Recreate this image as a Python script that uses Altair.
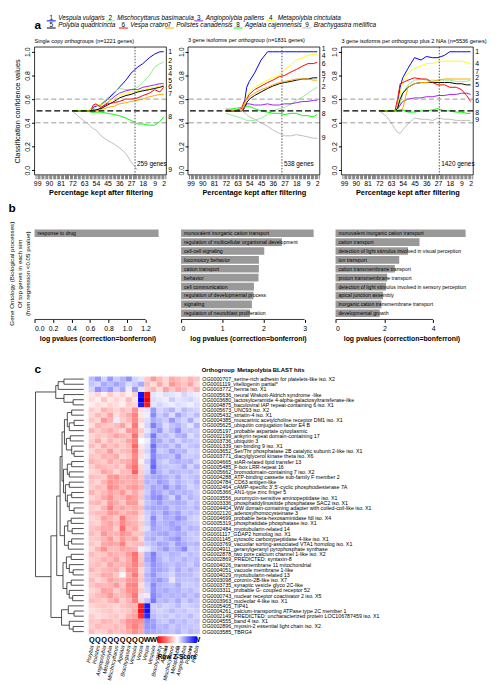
import altair as alt
import pandas as pd

FONT = "Liberation Sans"

# ---------------- legend / species ----------------
SPECIES = ["Vespula vulgaris", "Mischocyttarus basimacula", "Angiopolybia pallens",
           "Metapolybia cinctulata", "Polybia quadricincta", "Vespa crabro",
           "Polistes canadensis", "Agelaia cajennensis", "Brachygastra mellifica"]
SERIES_COLORS = ["#0000FF", "#90EE90", "#A020F0", "#FFFF00", "#000000",
                 "#FF0000", "#FFA500", "#00FF00", "#BEBEBE"]

# ---------------- panel a data ----------------
PCT = [72, 66, 60, 58, 56, 54, 50, 45, 40, 36, 31, 27, 22, 18, 13, 9, 5, 2]
N = None
P1 = [
    [0.5, 0.5, 0.5, 0.5, 0.53, 0.54, 0.55, 0.6, 0.65, 0.7, 0.76, 0.82, 0.87, 0.9, 0.95, 0.98, 1.0, 1.0],
    [0.5, 0.5, 0.5, 0.5, 0.52, 0.53, 0.56, 0.61, 0.66, 0.69, 0.68, 0.68, 0.7, 0.74, 0.8, 0.87, 0.9, 0.91],
    [0.5, 0.5, 0.5, 0.5, 0.49, 0.5, 0.53, 0.57, 0.62, 0.65, 0.67, 0.68, 0.68, 0.7, 0.71, 0.72, 0.73, 0.73],
    [0.5, 0.5, 0.5, 0.52, 0.55, 0.55, 0.55, 0.58, 0.6, 0.63, 0.65, 0.66, 0.67, 0.68, 0.69, 0.7, 0.71, 0.72],
    [0.5, 0.5, 0.5, 0.5, 0.51, 0.51, 0.52, 0.55, 0.58, 0.61, 0.63, 0.64, 0.66, 0.67, 0.68, 0.69, 0.7, 0.71],
    [0.5, 0.5, 0.5, 0.5, 0.55, 0.56, 0.53, 0.56, 0.57, 0.58, 0.6, 0.6, 0.61, 0.63, 0.65, 0.68, 0.66, 0.7],
    [0.5, 0.5, 0.5, 0.5, 0.52, 0.5, 0.51, 0.53, 0.54, 0.56, 0.57, 0.58, 0.59, 0.6, 0.62, 0.63, 0.64, 0.64],
    [0.5, 0.5, 0.5, 0.49, 0.49, 0.49, 0.49, 0.48, 0.47, 0.46, 0.44, 0.42, 0.39, 0.39, 0.38, 0.38, 0.41, 0.45],
    [0.5, 0.44, 0.39, 0.37, 0.35, 0.34, 0.29, 0.25, 0.22, 0.19, 0.14, 0.07, 0.0, N, N, N, N, N],
]
P2 = [
    [0.5, 0.5, 0.5, 0.55, 0.7, 0.75, 0.82, 0.93, 1.0, 1.0, 1.0, 1.0, 1.0, 1.0, 1.0, 1.0, 1.0, 1.0],
    [0.48, 0.46, 0.44, 0.43, 0.42, 0.42, 0.42, 0.44, 0.47, 0.5, 0.52, 0.53, 0.56, 0.59, 0.62, 0.65, 0.68, 0.7],
    [0.5, 0.5, 0.5, 0.52, 0.56, 0.56, 0.55, 0.55, 0.56, 0.55, 0.55, 0.56, 0.56, 0.57, 0.58, 0.58, 0.59, 0.59],
    [0.5, 0.5, 0.5, 0.55, 0.62, 0.66, 0.7, 0.73, 0.76, 0.78, 0.8, 0.85, 0.89, 0.93, 0.95, 0.97, 0.98, 0.98],
    [0.5, 0.5, 0.5, 0.52, 0.57, 0.6, 0.63, 0.66, 0.69, 0.71, 0.73, 0.74, 0.75, 0.76, 0.77, 0.77, 0.78, 0.78],
    [0.5, 0.5, 0.52, 0.58, 0.6, 0.64, 0.68, 0.71, 0.74, 0.76, 0.79, 0.8, 0.83, 0.85, 0.88, 0.9, 0.9, 0.91],
    [0.5, 0.5, 0.5, 0.55, 0.6, 0.62, 0.65, 0.68, 0.7, 0.72, 0.74, 0.75, 0.76, 0.77, 0.77, 0.77, 0.76, 0.76],
    [0.51, 0.52, 0.53, 0.53, 0.54, 0.54, 0.52, 0.5, 0.49, 0.48, 0.48, 0.47, 0.48, 0.48, 0.46, 0.46, 0.45, 0.47],
    [0.52, 0.51, 0.5, 0.49, 0.47, 0.45, 0.43, 0.4, 0.37, 0.34, 0.31, 0.29, 0.29, 0.3, 0.29, 0.28, 0.27, 0.27],
]
P3 = [
    [0.5, 0.5, 0.5, 0.55, 0.7, 0.78, 0.86, 0.95, 0.93, 0.96, 0.95, 0.95, 0.97, 1.0, 1.0, 1.0, 1.0, 1.0],
    [0.5, 0.5, 0.5, 0.5, 0.55, 0.65, 0.72, 0.76, 0.77, 0.76, 0.76, 0.76, 0.76, 0.76, 0.75, 0.75, 0.75, 0.76],
    [0.5, 0.5, 0.5, 0.52, 0.55, 0.58, 0.6, 0.61, 0.61, 0.62, 0.62, 0.63, 0.63, 0.64, 0.64, 0.65, 0.65, 0.64],
    [0.5, 0.5, 0.5, 0.55, 0.65, 0.75, 0.82, 0.86, 0.88, 0.9, 0.9, 0.92, 0.92, 0.92, 0.92, 0.92, 0.91, 0.9],
    [0.5, 0.5, 0.5, 0.52, 0.6, 0.65, 0.7, 0.73, 0.74, 0.74, 0.74, 0.74, 0.74, 0.74, 0.73, 0.73, 0.72, 0.72],
    [0.5, 0.5, 0.5, 0.6, 0.73, 0.74, 0.76, 0.78, 0.77, 0.77, 0.74, 0.72, 0.72, 0.7, 0.7, 0.68, 0.63, 0.58],
    [0.5, 0.5, 0.5, 0.5, 0.5, 0.52, 0.7, 0.73, 0.74, 0.74, 0.75, 0.76, 0.77, 0.77, 0.77, 0.77, 0.77, 0.77],
    [0.5, 0.5, 0.5, 0.5, 0.51, 0.51, 0.49, 0.49, 0.5, 0.5, 0.51, 0.52, 0.5, 0.5, 0.49, 0.49, 0.48, 0.48],
    [0.5, 0.45, 0.35, 0.32, 0.31, 0.34, 0.39, 0.44, 0.43, 0.43, 0.42, 0.44, 0.43, 0.43, 0.42, 0.42, 0.42, 0.42],
]
PANEL_TITLES = ["Single copy orthogroups (n=1221 genes)",
                "3 gene isoforms per orthogroup (n=1831 genes)",
                "3 gene isoforms per orthogroup plus 2 NAs (n=5536 genes)"]
CUT_PCT = [24, 29, 26]
CUT_GENES = ["259 genes", "538 genes", "1420 genes"]
THRESH_GRAY = [0.4, 0.6]
THRESH_BLACK = [0.5]
X_LABELS = [99, 90, 81, 72, 63, 54, 45, 36, 27, 18, 9, 2]

# ---------------- panel b data ----------------
B1_TERMS = ["response to drug"]
B1_VALS = [1.34]
B2_TERMS = ["monovalent inorganic cation transport",
            "regulation of multicellular organismal development",
            "cell-cell signaling", "locomotory behavior", "cation transport",
            "behavior", "cell communication", "regulation of developmental process",
            "signaling", "regulation of neuroblast proliferation"]
B2_VALS = [3.22, 2.45, 2.02, 1.89, 1.89, 1.88, 1.77, 1.76, 1.72, 1.67]
B3_TERMS = ["monovalent inorganic cation transport", "cation transport",
            "detection of light stimulus involved in visual perception",
            "ion transport", "cation transmembrane transport",
            "proton transmembrane transport",
            "detection of light stimulus involved in sensory perception",
            "apical junction assembly", "inorganic cation transmembrane transport",
            "developmental growth"]
B3_VALS = [5.33, 3.44, 2.97, 2.61, 2.43, 2.12, 2.07, 1.95, 1.88, 1.81]

# ---------------- panel c data ----------------
COL_CASTE = ["Q"] * 9 + ["W"] * 9
COL_SPECIES = ["Polybia", "Polistes", "Angiopolybia", "Metapolybia", "Mischocyttarus",
               "Agelaia", "Brachygastra", "Vespula", "Vespa",
               "Vespa", "Vespula", "Brachygastra", "Agelaia", "Mischocyttarus",
               "Metapolybia", "Angiopolybia", "Polistes", "Polybia"]
ROW_LABELS = [
    "OG0000707_serine-rich adhesin for platelets-like iso. X2",
    "OG0001119_vitellogenin partial*",
    "OG0003772_henna iso. X1",
    "OG0005636_neural Wiskott-Aldrich syndrome -like",
    "OG0003680_lactosylceramide 4-alpha-galactosyltransferase-like",
    "OG0004875_baculoviral IAP repeat-containing 6 iso. X1",
    "OG0005673_UNC93 iso. X2",
    "OG0005432_striatin-4 iso. X1",
    "OG0004385_muscarinic acetylcholine receptor DM1 iso. X1",
    "OG0005625_ubiquitin conjugation factor E4 B",
    "OG0005197_probable aspartate cytoplasmic",
    "OG0002199_ankyrin repeat domain-containing 17",
    "OG0003736_ubiquitin 3",
    "OG0001339_ran-binding 9 iso. X1",
    "OG0003652_Ser/Thr phosphatase 2B catalytic subunit 2-like iso. X1",
    "OG0003771_diacylglycerol kinase theta iso. X6",
    "OG0004665_stAR-related lipid transfer 13",
    "OG0005485_F-box LRR-repeat 16",
    "OG0005662_bromodomain-containing 7 iso. X2",
    "OG0004288_ATP-binding cassette sub-family F member 2",
    "OG0004784_CD63 antigen-like",
    "OG0002464_cAMP-specific 3',5'-cyclic phosphodiesterase 7A",
    "OG0005366_AN1-type zinc finger 5",
    "OG0003556_puromycin-sensitive aminopeptidase iso. X1",
    "OG0003336_phosphatidylinositide phosphatase SAC2 iso. X1",
    "OG0004404_WW domain-containing adapter with coiled-coil-like iso. X1",
    "OG0002120_adenosylhomocysteinase 3",
    "OG0004699_probable beta-hexosaminidase fdl iso. X4",
    "OG0005319_phosphatidate phosphatase iso. X1",
    "OG0002484_myotubularin-related 14",
    "OG0001117_GDAP2 homolog iso. X1",
    "OG0001145_cytosolic carboxypeptidase 4-like iso. X1",
    "OG0003769_vacuolar sorting-associated VTA1 homolog iso. X1",
    "OG0004911_geranylgeranyl pyrophosphate synthase",
    "OG0002878_two pore calcium channel 1-like iso. X2",
    "OG0002869_PREDICTED: syntaxin-8",
    "OG0004026_transmembrane 11 mitochondrial",
    "OG0004051_vacuole membrane 1-like",
    "OG0004029_myotubularin-related 13",
    "OG0003098_coronin-2B-like iso. X7",
    "OG0003735_synaptic vesicle glyco 2C-like",
    "OG0003311_probable G- coupled receptor 52",
    "OG0000743_nuclear receptor coactivator 2 iso. X5",
    "OG0003963_nucleolar 4-like iso. X1",
    "OG0005405_TIP41",
    "OG0004261_calcium-transporting ATPase type 2C member 1",
    "OG0002149_PREDICTED: uncharacterized protein LOC106787459 iso. X1",
    "OG0004555_band 4 iso. X1",
    "OG0002896_myosin-2 essential light chain iso. X2",
    "OG0003585_TBRG4",
]
Z = [
    [0.8, 1.2, 0.5, 1.2, 0.6, 0.9, 1.3, 0.5, 0.3, -0.6, -1.2, -0.8, -0.5, -1.0, -0.8, -0.6, -0.9, -0.7],
    [0.7, 0.5, 1.0, 0.8, 1.1, 0.9, 0.4, 0.6, 1.0, -0.8, -0.4, -1.0, -0.5, -1.2, -0.9, -0.7, -1.1, -0.5],
    [0.5, 1.3, 0.9, 1.2, 0.6, 1.0, 0.2, 1.2, 0.3, -0.6, -0.9, -0.4, -1.1, -0.6, -1.0, -0.8, -0.5, -0.9],
    [-0.3, -0.5, -0.2, -0.6, -0.3, -0.5, -0.2, -0.6, 2.8, -2.8, 0.3, 0.2, 0.4, 0.3, 0.2, 0.5, 0.3, 0.2],
    [-0.4, -0.2, -0.7, -0.3, -0.5, -0.3, -0.8, -0.3, 3.0, -3.0, 0.4, 0.3, 0.2, 0.6, 0.3, 0.4, 0.5, 0.3],
    [-0.2, -0.4, -0.3, -0.5, -0.4, -0.2, -0.6, -0.5, 2.7, -2.7, 0.3, 0.5, 0.3, 0.2, 0.4, 0.3, 0.2, 0.4],
    [-0.6, -0.4, -0.9, -0.7, -0.5, -0.8, -0.6, -1.3, -0.4, 0.3, 1.2, 0.5, 0.7, 0.9, 0.4, 0.8, 0.6, 0.5],
    [-0.5, -0.8, -0.6, -1.1, -0.4, -0.7, -1.0, -1.5, -0.3, 0.2, 1.4, 0.6, 0.9, 0.4, 1.1, 0.7, 0.5, 0.8],
    [-0.7, -0.5, -1.2, -0.9, 0.2, -0.6, -0.8, -1.4, -0.5, 0.4, 1.0, 0.8, 0.6, 1.2, 0.7, 0.5, 1.0, 0.4],
    [-0.4, -0.9, -0.7, -0.6, -0.8, -1.1, -0.5, -1.6, -0.2, 0.5, 1.5, 0.9, 0.4, 0.7, 0.9, 0.6, 0.3, 0.9],
    [-0.9, -0.6, -0.8, -1.0, -0.7, -0.5, -1.2, -1.3, -0.6, 0.3, 0.9, 1.2, 0.5, 0.8, 1.3, 0.6, 0.7, 0.6],
    [-0.5, -0.7, -0.6, -0.8, -1.1, -0.9, -0.7, -1.7, -0.4, 0.6, 1.6, 0.7, 0.8, 0.5, 0.9, 1.0, 0.4, 0.7],
    [-0.6, -1.0, -0.5, -0.9, -0.6, -0.7, -1.1, -1.5, 0.0, 0.2, 1.3, 1.0, 0.6, 0.9, 0.5, 0.8, 0.7, 0.6],
    [-0.8, -0.5, -1.0, -0.7, -0.9, -0.6, -0.8, -1.8, -0.3, 0.4, 1.7, 0.8, 0.9, 0.6, 1.0, 0.5, 0.7, 0.8],
    [-0.5, -0.8, -0.7, -1.2, -0.6, -0.8, -0.9, -1.6, -0.5, 0.5, 1.5, 0.6, 0.7, 1.1, 0.8, 0.9, 0.5, 0.6],
    [-0.7, -0.6, -0.9, -0.8, -1.0, -0.5, -0.7, -1.4, -0.4, 0.3, 1.4, 0.9, 0.8, 0.7, 1.2, 0.6, 0.6, 0.7],
    [-0.9, -0.7, -0.6, -1.0, -0.7, -0.9, -1.0, -1.5, -0.2, 0.6, 1.6, 0.7, 0.5, 0.8, 0.9, 0.8, 0.9, 0.5],
    [-0.6, -0.9, -0.8, -0.7, -0.8, -0.6, -1.2, -1.7, -0.5, 0.4, 1.8, 0.8, 0.7, 0.6, 0.7, 1.0, 0.5, 0.9],
    [-0.5, -0.6, -1.1, -0.9, -0.5, -0.8, -0.8, -1.9, -0.6, 0.5, 1.5, 0.9, 0.6, 0.9, 0.8, 0.7, 0.8, 0.6],
    [-0.8, -0.7, -0.6, -1.2, -1.3, -0.9, -1.0, -1.1, -0.7, 0.8, 1.0, 1.1, 0.9, 0.7, 1.0, 0.6, 0.7, 0.8],
    [-0.7, -0.5, -0.9, -1.3, -1.1, -1.0, -0.9, -1.0, -0.8, 0.9, 0.8, 1.2, 1.0, 0.6, 0.9, 0.7, 0.6, 0.9],
    [-0.6, -0.8, -0.7, -1.4, -1.2, -0.8, -1.1, -1.2, -0.9, 0.7, 1.1, 0.9, 1.3, 0.8, 1.1, 0.8, 0.5, 0.7],
    [-0.9, -0.6, -0.8, -1.1, -0.9, -1.2, -0.7, -1.0, -0.6, 0.6, 1.2, 1.0, 0.7, 1.0, 0.8, 0.9, 0.8, 0.6],
    [-0.5, -0.7, -1.0, -1.3, -0.8, -0.9, -1.3, -1.1, -0.7, 0.8, 1.3, 1.4, 0.9, 0.5, 1.2, 0.6, 0.9, 0.7],
    [-0.8, -0.9, -0.6, -1.2, -1.0, -0.7, -1.2, -1.2, -0.5, 0.7, 0.9, 1.2, 0.8, 0.9, 1.0, 0.9, 0.6, 0.8],
    [-0.6, -0.5, -0.9, -1.5, -0.9, -1.1, -0.8, -1.0, -0.8, 0.9, 1.1, 1.0, 1.1, 0.7, 0.9, 0.8, 0.7, 0.9],
    [-0.7, -0.8, -0.8, -1.2, -1.1, -0.8, -1.0, -1.1, -0.6, 0.6, 1.0, 0.8, 1.2, 0.9, 1.1, 0.7, 0.8, 0.7],
    [-0.5, -0.6, -1.1, -0.9, -0.7, -1.6, -0.9, -0.8, -0.4, 0.5, 1.4, 0.7, 1.0, 0.9, 1.3, 1.0, 0.6, 0.5],
    [-0.6, -0.5, -0.9, -1.1, -0.8, -1.4, -1.0, -0.9, -0.6, 0.6, 1.2, 0.8, 0.9, 1.1, 0.9, 0.8, 0.7, 0.6],
    [-0.7, -0.8, -1.0, -1.0, -0.6, -1.7, -0.8, -1.0, -0.5, 0.4, 1.1, 0.9, 0.8, 1.0, 1.2, 0.7, 0.9, 0.8],
    [-0.8, -0.6, -1.2, -0.9, -0.9, -1.3, -1.1, -0.7, -0.7, 0.7, 0.9, 1.0, 1.1, 0.8, 1.0, 0.9, 0.6, 0.7],
    [-0.6, -0.7, -0.9, -1.2, -0.7, -1.2, -0.9, -1.1, -0.5, 0.8, 1.0, 0.7, 0.9, 1.1, 1.3, 0.8, 0.7, 0.6],
    [-0.7, -0.5, -1.0, -1.1, -1.0, -1.5, -0.7, -0.8, -0.8, 0.6, 0.8, 1.1, 1.0, 0.7, 1.2, 1.0, 0.8, 0.9],
    [-0.5, -0.9, -1.3, -0.8, -0.8, -1.1, -1.0, -0.9, 0.2, 0.3, 0.7, 0.9, 1.2, 0.8, 1.0, 1.4, 0.6, 0.7],
    [-0.8, -0.6, -0.7, -1.0, -0.9, -0.8, -1.2, -1.7, -0.6, 0.9, 1.5, 0.8, 0.7, 0.9, 0.8, 0.6, 0.8, 0.7],
    [-0.6, -0.7, -0.9, -0.8, -1.1, -0.7, -1.0, -1.6, -0.7, 1.0, 1.4, 0.9, 0.6, 0.8, 0.7, 0.9, 0.7, 0.8],
    [-0.7, -0.8, -0.6, -1.1, -0.8, -0.9, -1.1, -1.5, -0.8, 0.8, 1.3, 1.0, 0.8, 0.7, 0.9, 0.8, 0.6, 0.9],
    [-0.9, -0.6, -0.8, -0.9, -1.0, -0.6, -1.3, -1.4, -0.5, 0.7, 1.2, 1.1, 0.9, 0.6, 1.0, 0.7, 0.9, 0.7],
    [-0.6, -0.7, -1.0, -1.0, -0.7, 0.1, -1.0, -1.6, -0.6, 0.9, 1.3, 0.8, 0.7, 0.5, 0.9, 0.8, 0.8, 0.6],
    [-0.8, -0.5, -0.7, -1.1, -0.9, -0.8, -1.2, -1.3, -0.7, 0.8, 1.1, 1.2, 0.9, 0.3, 0.8, 0.7, 0.7, 0.8],
    [-0.7, -0.9, -0.8, -0.9, -1.2, -0.7, -1.4, -1.5, -0.4, 0.6, 1.4, 0.9, 0.8, 0.7, 1.0, 0.6, 0.6, 0.7],
    [-0.5, -0.6, -1.1, -1.0, -0.6, -0.9, -1.3, -1.4, -0.6, 0.5, 1.3, 0.9, 1.0, 0.8, 0.9, 0.7, 0.8, 0.6],
    [-0.6, -0.8, -0.9, -1.2, -0.8, -0.8, -1.1, -1.6, 0.3, -0.3, 1.4, 1.0, 0.8, 0.9, 0.8, 0.9, 0.7, 0.9],
    [-0.8, -0.7, -0.6, -0.9, -1.1, -0.6, -0.9, -1.5, -0.5, 0.7, 1.6, 0.8, 0.9, 0.7, 1.0, 0.6, 0.9, 0.7],
    [-0.5, -0.6, -0.7, -0.6, -0.5, -0.7, -0.8, -0.9, -2.6, 2.7, 0.6, 0.7, 0.5, 0.6, 0.8, 0.5, 0.6, 0.7],
    [-0.4, -0.5, -0.6, -0.7, -0.5, -0.6, -0.7, -1.0, -2.8, 2.8, 0.7, 0.5, 0.6, 0.8, 0.6, 0.7, 0.5, 0.6],
    [-0.6, -0.4, -0.5, -0.6, -0.7, -0.5, -0.9, -1.1, -2.5, 2.5, 0.8, 0.6, 0.7, 0.5, 0.7, 0.6, 0.8, 0.5],
    [-0.7, -0.6, -0.9, -0.8, -0.6, -0.9, -1.3, -1.4, -1.3, 1.3, 1.1, 0.7, 0.6, 0.9, 0.7, 0.8, 0.6, 0.7],
    [-0.6, -0.8, -0.7, -0.7, -0.8, -0.7, -1.2, -1.5, -1.1, 1.2, 1.2, 0.8, 0.9, 0.6, 0.8, 0.7, 0.7, 0.6],
    [-0.8, -0.5, -0.6, -0.9, -0.7, -0.8, -1.0, -1.3, -1.0, 1.1, 1.0, 0.9, 0.8, 0.7, 0.9, 0.6, 0.8, 0.7],
]
# row dendrogram: (merge height, upper child, lower child); leaves = row numbers
DENDRO = (10.0,
          (5.8, (5.3, (4.1, 1, 2), 3), (4.1, 4, (2.2, 5, 6))),
          (6.8,
           (5.6,
            (4.9,
             (4.5,
              (4.0, (3.4, (2.5, 7, 8), (3.0, (2.0, 9, 10), 11)),
               (3.6, (2.8, 12, 13), (2.5, 14, (2.0, 15, 16)))),
              (4.2, (3.4, (2.5, 17, 18), (3.0, 19, 20)),
               (3.8, (3.0, 21, 22), (3.4, (2.5, 23, 24), (3.0, 25, (2.0, 26, 27)))))),
             (4.0, (3.3, (2.6, 28, 29), (2.4, 30, 31)), (3.2, (2.5, 32, 33), 34))),
            (4.3, (3.6, (2.6, 35, 36), (3.0, 37, (2.2, 38, 39))),
             (3.5, (2.6, 40, 41), (3.0, 42, (2.3, 43, 44))))),
           (4.6, (3.2, 45, (2.0, 46, 47)), (3.0, 48, (2.2, 49, 50)))))

# =====================================================================
color_scale = alt.Scale(domain=[str(i + 1) for i in range(9)], range=SERIES_COLORS)

# ---------------- top legend ----------------
LEG_W = 440
leg_recs = []
for r, idxs in enumerate([[0, 1, 2, 3], [4, 5, 6, 7, 8]]):
    x = 17.0
    for i in idxs:
        leg_recs.append({"num": str(i + 1), "name": SPECIES[i], "x": x, "xl": x - 4.5,
                         "xr": x + 4.5, "xn": x + 7, "row": r, "urow": r + 0.42})
        x += 6.7 + 3.33 * len(SPECIES[i])
leg_df = pd.DataFrame(leg_recs)
lx = alt.Scale(domain=[0, LEG_W], nice=False, zero=False)
ly = alt.Scale(domain=[-0.6, 1.6], reverse=True, nice=False, zero=False)
leg_base = alt.Chart(leg_df)
leg_num = leg_base.mark_text(fontSize=6.5, align="center", baseline="middle").encode(
    x=alt.X("x:Q", scale=lx, axis=None), y=alt.Y("row:Q", scale=ly, axis=None), text="num:N")
leg_ul = leg_base.mark_rule(strokeWidth=1).encode(
    x=alt.X("xl:Q", scale=lx, axis=None), x2="xr:Q", y=alt.Y("urow:Q", scale=ly, axis=None),
    color=alt.Color("num:N", scale=color_scale, legend=None))
leg_name = leg_base.mark_text(fontSize=6.5, align="left", baseline="middle", fontStyle="italic").encode(
    x=alt.X("xn:Q", scale=lx, axis=None), y=alt.Y("row:Q", scale=ly, axis=None), text="name:N")
leg_a = alt.Chart(pd.DataFrame({"t": ["a"]})).mark_text(
    fontSize=12, fontWeight="bold", align="left", baseline="middle").encode(
    x=alt.value(0), y=alt.value(12), text="t:N")
legend_chart = alt.layer(leg_ul, leg_num, leg_name, leg_a).properties(width=LEG_W, height=16)


# ---------------- panel a ----------------
def spread(vals, gap):
    order = sorted(range(len(vals)), key=lambda i: vals[i])
    pos = [0.0] * len(vals)
    prev = -10.0
    for i in order:
        p = max(vals[i], prev + gap)
        pos[i] = p
        prev = p
    top = max(pos)
    if top > 1.02:
        shift = top - 1.02
        pos = [p - shift if p > 0.9 else p for p in pos]
    return pos


W_A, H_A = 134, 130


def panel_a(vals, title, cut, genes, first):
    recs = []
    for k in range(9):
        for p, v in zip(PCT, vals[k]):
            if v is not None:
                recs.append({"pct": p, "val": v, "sp": str(k + 1)})
    df = pd.DataFrame(recs)
    last = [[v for v in vals[k] if v is not None][-1] for k in range(9)]
    lab = pd.DataFrame({"sp": [str(k + 1) for k in range(9)], "ly": spread(last, 0.055)})
    xs = alt.Scale(domain=[0, 101], reverse=True, nice=False, zero=False)
    ys = alt.Scale(domain=[-0.04, 1.04], nice=False, zero=False)
    label_expr = "indexof(" + str(X_LABELS) + ", datum.value) >= 0 ? datum.value : ''"
    xaxis = alt.Axis(values=list(range(1, 101)), labelExpr=label_expr,
                     title="Percentage kept after filtering", titleFontWeight="bold",
                     titleFontSize=7.5, titlePadding=2, labelFontSize=7, labelPadding=1,
                     tickSize=4, tickWidth=0.5, tickColor="black", domain=False,
                     labelOverlap=False, labelColor="black", labelFlush=False)
    ykw = dict(values=[0, 0.2, 0.4, 0.6, 0.8, 1.0], format=".1f", labelAngle=-90,
               labelAlign="center", labelBaseline="bottom", labelFontSize=7,
               labelPadding=1, tickSize=3, tickColor="black", domain=False,
               labelColor="black", labelOverlap=False)
    if first:
        ykw.update(title="Classification confidence values", titleFontSize=7.5,
                   titleFontWeight="normal", titlePadding=2)
    else:
        ykw.update(title=None)
    yaxis = alt.Axis(**ykw)

    frame = alt.Chart(pd.DataFrame({"f": [0]})).mark_rect(
        fill="transparent", stroke="black", strokeWidth=0.8).encode(
        x=alt.value(0), x2=alt.value(W_A), y=alt.value(0), y2=alt.value(H_A))
    lines = alt.Chart(df).mark_line(strokeWidth=1).encode(
        x=alt.X("pct:Q", scale=xs, axis=xaxis),
        y=alt.Y("val:Q", scale=ys, axis=yaxis),
        color=alt.Color("sp:N", scale=color_scale, legend=None),
        order=alt.Order("pct:Q", sort="descending"))
    hg = alt.Chart(pd.DataFrame({"t": THRESH_GRAY})).mark_rule(
        color="#999999", strokeDash=[5, 3], strokeWidth=1).encode(
        y=alt.Y("t:Q", scale=ys, axis=yaxis))
    hb = alt.Chart(pd.DataFrame({"t": THRESH_BLACK})).mark_rule(
        color="black", strokeDash=[6, 3], strokeWidth=1.3).encode(
        y=alt.Y("t:Q", scale=ys, axis=yaxis))
    cdf = pd.DataFrame({"c": [cut], "g": [genes], "y": [0.03]})
    vline = alt.Chart(cdf).mark_rule(color="#555555", strokeDash=[1.5, 1.5], strokeWidth=1).encode(
        x=alt.X("c:Q", scale=xs, axis=xaxis))
    vtext = alt.Chart(cdf).mark_text(fontSize=6.5, align="left", baseline="bottom", dx=2).encode(
        x=alt.X("c:Q", scale=xs, axis=xaxis), y=alt.Y("y:Q", scale=ys, axis=yaxis), text="g:N")
    labels = alt.Chart(lab).mark_text(fontSize=7, align="left", baseline="middle").encode(
        x=alt.value(W_A + 2), y=alt.Y("ly:Q", scale=ys, axis=yaxis), text="sp:N")
    return alt.layer(lines, hg, hb, vline, vtext, labels, frame).properties(
        width=W_A, height=H_A,
        title=alt.TitleParams(title, anchor="start", frame="group", fontSize=5.6,
                              fontWeight="normal", offset=2))


row_a = alt.hconcat(
    panel_a(P1, PANEL_TITLES[0], CUT_PCT[0], CUT_GENES[0], True),
    panel_a(P2, PANEL_TITLES[1], CUT_PCT[1], CUT_GENES[1], False),
    panel_a(P3, PANEL_TITLES[2], CUT_PCT[2], CUT_GENES[2], False),
    spacing=4)

# ---------------- panel b ----------------
H_B = 90


def panel_b(terms, vals, ticks, dmax, width, ytitle):
    df = pd.DataFrame({"rank": list(range(1, len(terms) + 1)), "term": terms, "val": vals})
    xs = alt.Scale(domain=[0, dmax], nice=False, zero=True)
    ykw = dict(labels=False, ticks=False, domain=False)
    if ytitle:
        ykw.update(title=ytitle, titleFontSize=6.3, titleFontWeight="normal", titlePadding=4)
    else:
        ykw.update(title=None)
    yaxis = alt.Axis(**ykw)
    ysc = alt.Scale(domain=list(range(1, 11)), paddingInner=0.14, paddingOuter=0.05)
    xaxis = alt.Axis(values=ticks, title="log pvalues (correction=bonferroni)",
                     titleFontWeight="bold", titleFontSize=7, titlePadding=3,
                     labelFontSize=7, tickSize=3, tickColor="black", domain=False,
                     offset=2, labelColor="black")
    bars = alt.Chart(df).mark_bar(color="#999999").encode(
        x=alt.X("val:Q", scale=xs, axis=xaxis), y=alt.Y("rank:O", scale=ysc, axis=yaxis))
    txt = alt.Chart(df).mark_text(fontSize=5.2, align="left", baseline="middle", dx=3).encode(
        x=alt.value(0), y=alt.Y("rank:O", scale=ysc, axis=yaxis), text="term:N")
    axis_line = alt.Chart(pd.DataFrame({"a": [0], "b": [ticks[-1]]})).mark_rule(
        color="black", strokeWidth=0.8).encode(
        x=alt.X("a:Q", scale=xs, axis=xaxis), x2="b:Q", y=alt.value(H_B + 2))
    return alt.layer(bars, txt, axis_line).properties(width=width, height=H_B)


B_YTITLE = ["Gene Ontology (Biological processes)", "Of top genes in each sim",
            "(from regression <0.05 pvalue)"]
row_b = alt.hconcat(
    panel_b(B1_TERMS, B1_VALS, [0, 0.2, 0.4, 0.6, 0.8, 1.0, 1.2], 1.36, 128, B_YTITLE),
    panel_b(B2_TERMS, B2_VALS, [0, 1, 2, 3], 3.25, 136, None),
    panel_b(B3_TERMS, B3_VALS, [0, 2, 4], 5.4, 134, None),
    spacing=20).properties(
    title=alt.TitleParams("b", anchor="start", fontSize=12, fontWeight="bold", offset=6))

# ---------------- panel c ----------------
W_H, H_H, W_D = 113, 262, 50
col_ids = [f"{c}|{s}" for c, s in zip(COL_CASTE, COL_SPECIES)]
hm = []
for r, lab in enumerate(ROW_LABELS):
    for j, cid in enumerate(col_ids):
        hm.append({"row": lab, "col": cid, "z": Z[r][j]})
hm_df = pd.DataFrame(hm)
xaxis_h = alt.Axis(labelExpr="split(datum.label, '|')[1]", labelAngle=-78,
                   labelAlign="right", labelBaseline="middle", labelFontSize=5.5,
                   labelFontStyle="italic", labelPadding=11, ticks=False,
                   domain=False, title=None, labelColor="black")
xsc_h = alt.Scale(paddingInner=0, paddingOuter=0)
yh = alt.Y("row:N", sort=ROW_LABELS, scale=alt.Scale(paddingInner=0, paddingOuter=0),
           axis=alt.Axis(orient="right", labelFontSize=5.4, labelLimit=0, ticks=False,
                         domain=False, title=None, labelPadding=2, labelColor="black"))
heat = alt.Chart(hm_df).mark_rect().encode(
    x=alt.X("col:N", sort=col_ids, scale=xsc_h, axis=xaxis_h), y=yh,
    color=alt.Color("z:Q", scale=alt.Scale(domain=[-3, 0, 3], range=["#FF0000", "#FFFFFF", "#0000FF"],
                                           interpolate="rgb"),
                    legend=alt.Legend(orient="none", legendX=W_H + 12, legendY=H_H + 2,
                                      direction="horizontal", gradientLength=40,
                                      gradientThickness=7, title="Row Z-Score",
                                      titleOrient="bottom", titleFontSize=6.5,
                                      titleFontWeight="bold", labelFontSize=6,
                                      values=[-2, -1, 0, 1, 2], titleAnchor="middle",
                                      titlePadding=3)))
caste_df = pd.DataFrame({"col": col_ids, "caste": COL_CASTE})
caste_txt = alt.Chart(caste_df).mark_text(fontSize=7.5, fontWeight="bold", baseline="top").encode(
    x=alt.X("col:N", sort=col_ids, scale=xsc_h, axis=xaxis_h), y=alt.value(H_H + 2), text="caste:N")
hdr1 = alt.Chart(pd.DataFrame({"t": ["Orthogroup"]})).mark_text(
    fontSize=6, fontWeight="bold", align="left", baseline="bottom").encode(
    x=alt.value(W_H + 2), y=alt.value(-4), text="t:N")
hdr2 = alt.Chart(pd.DataFrame({"t": ["Metapolybia BLAST hits"]})).mark_text(
    fontSize=6, fontWeight="bold", align="left", baseline="bottom").encode(
    x=alt.value(W_H + 38), y=alt.value(-4), text="t:N")
heat_chart = alt.layer(heat, caste_txt, hdr1, hdr2).properties(width=W_H, height=H_H)

segs = []


def walk(node):
    if isinstance(node, int):
        return float(node), 0.0
    h, a, b = node
    ya, ha = walk(a)
    yb, hb = walk(b)
    segs.append({"x1": h, "x2": h, "y1": ya, "y2": yb})
    segs.append({"x1": ha, "x2": h, "y1": ya, "y2": ya})
    segs.append({"x1": hb, "x2": h, "y1": yb, "y2": yb})
    return (ya + yb) / 2, h


walk(DENDRO)
seg_df = pd.DataFrame(segs)
dendro_rules = alt.Chart(seg_df).mark_rule(color="#222222", strokeWidth=0.8).encode(
    x=alt.X("x1:Q", scale=alt.Scale(domain=[0, 10.2], reverse=True, nice=False, zero=False), axis=None),
    x2="x2:Q",
    y=alt.Y("y1:Q", scale=alt.Scale(domain=[0.5, len(ROW_LABELS) + 0.5], reverse=True,
                                     nice=False, zero=False), axis=None),
    y2="y2:Q")
c_label = alt.Chart(pd.DataFrame({"t": ["c"]})).mark_text(
    fontSize=12, fontWeight="bold", align="left", baseline="middle").encode(
    x=alt.value(0), y=alt.value(-8), text="t:N")
dendro = alt.layer(dendro_rules, c_label).properties(width=W_D, height=H_H)

row_c = alt.hconcat(dendro, heat_chart, spacing=0)

top = alt.vconcat(legend_chart, row_a, row_b, spacing=6)
chart = alt.vconcat(top, row_c, spacing=22).properties(
    padding=0
).configure(font=FONT).configure_view(stroke=None).configure_axis(grid=False).configure_title(
    font=FONT, color="black")

chart.save("out.html", embed_options={"renderer": "svg", "actions": False})
